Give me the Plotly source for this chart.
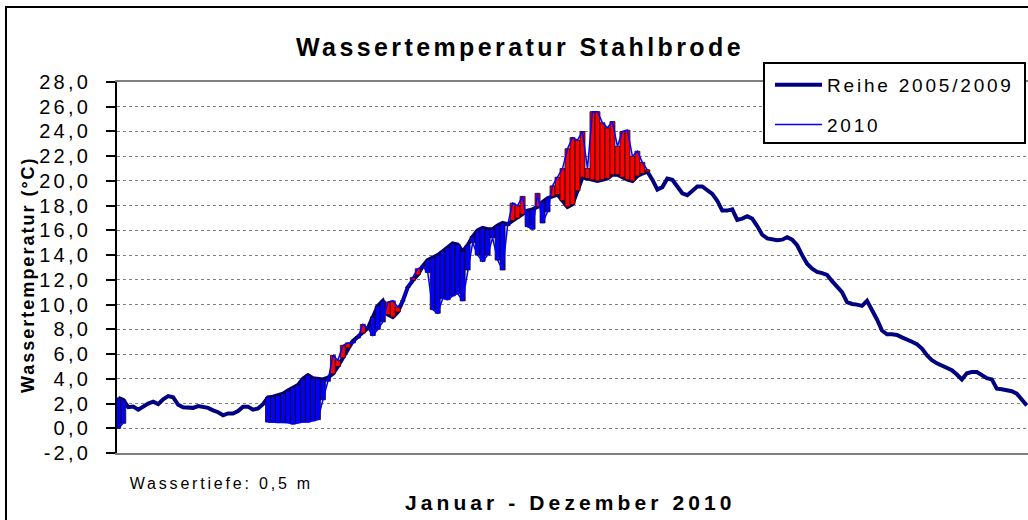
import plotly.graph_objects as go

# ---------------- data ----------------
# odd days of the year 2010 (category axis, 2-day resolution)
DAYS = list(range(1, 366, 2))

# Reihe 2005/2009 (reference series), one value per entry of DAYS
REF_2005_2009 = [
    2.45, 2.3, 1.7, 1.75, 1.5, 1.8, 2.0, 2.15, 1.95, 2.35,
    2.6, 2.5, 1.9, 1.7, 1.65, 1.65, 1.8, 1.7, 1.65, 1.45,
    1.3, 1.05, 1.2, 1.2, 1.4, 1.75, 1.75, 1.5, 1.6, 1.95,
    2.5, 2.55, 2.65, 2.8, 3.05, 3.3, 3.5, 4.0, 4.3, 4.05,
    4.0, 3.95, 4.1, 4.4, 5.0, 5.7, 6.5, 7.05, 7.4, 7.7,
    8.1, 9.0, 9.9, 10.3, 9.2, 9.0, 9.4, 10.3, 11.4, 11.95,
    12.4, 13.1, 13.6, 13.8, 14.0, 14.3, 14.6, 14.95, 14.85, 14.3,
    14.8, 15.5, 16.0, 16.2, 16.1, 16.1, 16.4, 16.6, 16.5, 16.8,
    17.0, 17.3, 17.6, 17.7, 17.9, 18.3, 18.6, 18.75, 18.9, 18.4,
    17.9, 18.1, 19.2, 20.3, 20.2, 20.1, 20.0, 20.1, 20.2, 20.5,
    20.5, 20.3, 20.1, 20.0, 20.4, 20.6, 20.75, 20.1, 19.3, 19.5,
    20.2, 20.1, 19.5, 19.0, 18.85, 19.2, 19.55, 19.55, 19.2, 18.95,
    18.4, 17.6, 17.6, 17.7, 16.85, 16.95, 17.15, 16.95, 16.35, 15.65,
    15.35, 15.25, 15.2, 15.25, 15.45, 15.25, 14.8, 14.0, 13.3, 12.9,
    12.65, 12.55, 12.4, 11.9, 11.5, 11.0, 10.2, 10.05, 10.0, 9.9,
    10.3, 9.6, 8.8, 7.9, 7.6, 7.6, 7.55, 7.35, 7.2, 7.0,
    6.8, 6.45, 5.9, 5.5, 5.25, 5.05, 4.85, 4.7, 4.35, 3.95,
    4.45, 4.55, 4.55, 4.3, 4.05, 3.95, 3.2, 3.15, 3.05, 3.0,
    2.8, 2.35, 1.85,
]

# 2010 measurements: two January values (days 1, 3) and the spring/summer run
T2010_JAN_DAYS = [1, 3]
T2010_JAN = [0.0, 0.4]
T2010_RUN_FIRST_DAY = 61
T2010_RUN = [
    0.5, 0.5, 0.45, 0.5, 0.45, 0.35, 0.45, 0.5, 0.5, 0.6,
    0.7, 2.3, 3.8, 5.9, 5.5, 6.7, 6.9, 6.9, 7.3, 8.4,
    8.1, 7.5, 8.0, 8.6, 10.2, 10.3, 9.8, 10.3, 11.4, 12.2,
    12.9, 13.1, 12.6, 9.6, 9.3, 10.5, 10.4, 10.7, 10.9, 10.3,
    12.8, 15.0, 14.0, 13.5, 14.0, 15.4, 13.6, 12.8, 16.4, 18.2,
    18.0, 18.75, 16.3, 16.1, 19.0, 16.6, 17.5, 19.6, 20.3, 21.0,
    22.6, 23.5, 23.3, 24.0, 21.0, 25.6, 25.6, 24.7, 24.3, 24.8,
    22.8, 24.0, 24.1, 22.0, 22.4, 21.5, 20.9,
]

Y_TICK_VALS = [-2, 0, 2, 4, 6, 8, 10, 12, 14, 16, 18, 20, 22, 24, 26, 28]
Y_TICK_TEXT = ["-2,0", "0,0", "2,0", "4,0", "6,0", "8,0", "10,0", "12,0", "14,0",
               "16,0", "18,0", "20,0", "22,0", "24,0", "26,0", "28,0"]

TITLE = "Wassertemperatur Stahlbrode"
Y_TITLE = "Wassertemperatur (°C)"
X_TITLE = "Januar - Dezember 2010"
NOTE = "Wassertiefe: 0,5 m"
NAME_REF = "Reihe 2005/2009"
NAME_2010 = "2010"

# ---------------- build series ----------------
t2010_by_day = dict(zip(T2010_JAN_DAYS, T2010_JAN))
for i, v in enumerate(T2010_RUN):
    t2010_by_day[T2010_RUN_FIRST_DAY + 2 * i] = v
T2010 = [t2010_by_day.get(d) for d in DAYS]

RED, BLUE, NAVY = "#FF0000", "#0000FF", "#000080"
bar_x, bar_base, bar_h, bar_col = [], [], [], []
for d, r, t in zip(DAYS, REF_2005_2009, T2010):
    if t is None:
        continue
    bar_x.append(d)
    bar_base.append(r)
    bar_h.append(t - r)
    bar_col.append(RED if t > r else BLUE)

# ---------------- layout geometry ----------------
W, H = 1028, 520
ML, MR, MT, MB = 117, 0, 82, 67
PW, PH = W - ML - MR, H - MT - MB


def px_x(p):
    return (p - ML) / PW


def px_y(p):
    return (H - MB - p) / PH


FONT = "Arial, 'Liberation Sans', sans-serif"

fig = go.Figure()
fig.add_trace(go.Scatter(x=DAYS, y=REF_2005_2009, mode="lines", name=NAME_REF,
                         line=dict(color=NAVY, width=4), legendgroup="a",
                         hoverinfo="skip"))
fig.add_trace(go.Bar(x=bar_x, y=bar_h, base=bar_base, width=2, yaxis="y2",
                     marker=dict(color=bar_col, line=dict(color="#1a0000", width=0.8)),
                     showlegend=False, hoverinfo="skip"))
fig.add_trace(go.Scatter(x=DAYS, y=T2010, mode="lines", name=NAME_2010, yaxis="y2",
                         connectgaps=False, line=dict(color=BLUE, width=1.5),
                         legendgroup="b", hoverinfo="skip"))

fig.update_layout(
    width=W, height=H,
    margin=dict(l=ML, r=MR, t=MT, b=MB),
    paper_bgcolor="white", plot_bgcolor="white",
    font=dict(family=FONT, color="black"),
    barmode="overlay",
    title=dict(text=TITLE, x=520 / W, xanchor="center", y=1 - 47 / H, yanchor="middle",
               xref="container", yref="container",
               font=dict(size=25, weight=700, color="black", family=FONT)),
    xaxis=dict(range=[0.5, 365.5], showgrid=False, showticklabels=False, ticks="",
               zeroline=False, showline=True, linecolor="#808080", linewidth=2,
               mirror=True),
    yaxis=dict(range=[-2, 28], tickvals=Y_TICK_VALS, ticktext=Y_TICK_TEXT,
               ticks="outside", ticklen=9, tickwidth=2, tickcolor="black",
               showline=True, linecolor="black", linewidth=2, zeroline=False,
               showgrid=True, gridcolor="#808080", griddash="dot", gridwidth=1,
               tickfont=dict(size=20, color="black", family=FONT),
               ticklabelstandoff=11),
    yaxis2=dict(range=[-2, 28], overlaying="y", visible=False),
    legend=dict(x=px_x(770), y=px_y(66), xanchor="left", yanchor="top",
                bgcolor="rgba(0,0,0,0)", borderwidth=0,
                font=dict(size=19, color="black", family=FONT),
                itemwidth=47, traceorder="grouped", tracegroupgap=12),
    shapes=[
        # outer chart frame
        dict(type="rect", xref="paper", yref="paper", x0=px_x(6), x1=px_x(1045),
             y0=px_y(540), y1=px_y(7), line=dict(color="black", width=2),
             fillcolor="rgba(0,0,0,0)", layer="above"),
        # legend box
        dict(type="rect", xref="paper", yref="paper", x0=px_x(764), x1=px_x(1025),
             y0=px_y(143), y1=px_y(63), line=dict(color="black", width=2),
             fillcolor="white", layer="above"),
    ],
    annotations=[
        dict(text=Y_TITLE, x=px_x(28), y=px_y(275), xref="paper", yref="paper",
             textangle=-90, showarrow=False, xanchor="center", yanchor="middle",
             font=dict(size=18, weight=700, color="black", family=FONT)),
        dict(text=X_TITLE, x=px_x(570), y=px_y(503), xref="paper", yref="paper",
             showarrow=False, xanchor="center", yanchor="middle",
             font=dict(size=21, weight=700, color="black", family=FONT)),
        dict(text=NOTE, x=px_x(221), y=px_y(483), xref="paper", yref="paper",
             showarrow=False, xanchor="center", yanchor="middle",
             font=dict(size=16, color="black", family=FONT)),
    ],
)

POST = """
document.body.style.margin = '0';
var gd = document.getElementById('{plot_id}');
function sp(sel, v) { gd.querySelectorAll(sel).forEach(function (t) { t.style.letterSpacing = v; }); }
sp('.gtitle', '3.4px');
sp('.ytick text', '3.2px');
sp('.legendtext', '2.8px');
gd.querySelectorAll('.legend [clip-path]').forEach(function (e) { e.removeAttribute('clip-path'); });
var ann = gd.querySelectorAll('.annotation-text');
var annSp = ['2px', '4.1px', '2.8px'];
ann.forEach(function (t, i) { if (annSp[i]) { t.style.letterSpacing = annSp[i]; } });
"""

fig.write_html("out.html", post_script=POST, config={"displayModeBar": False})
